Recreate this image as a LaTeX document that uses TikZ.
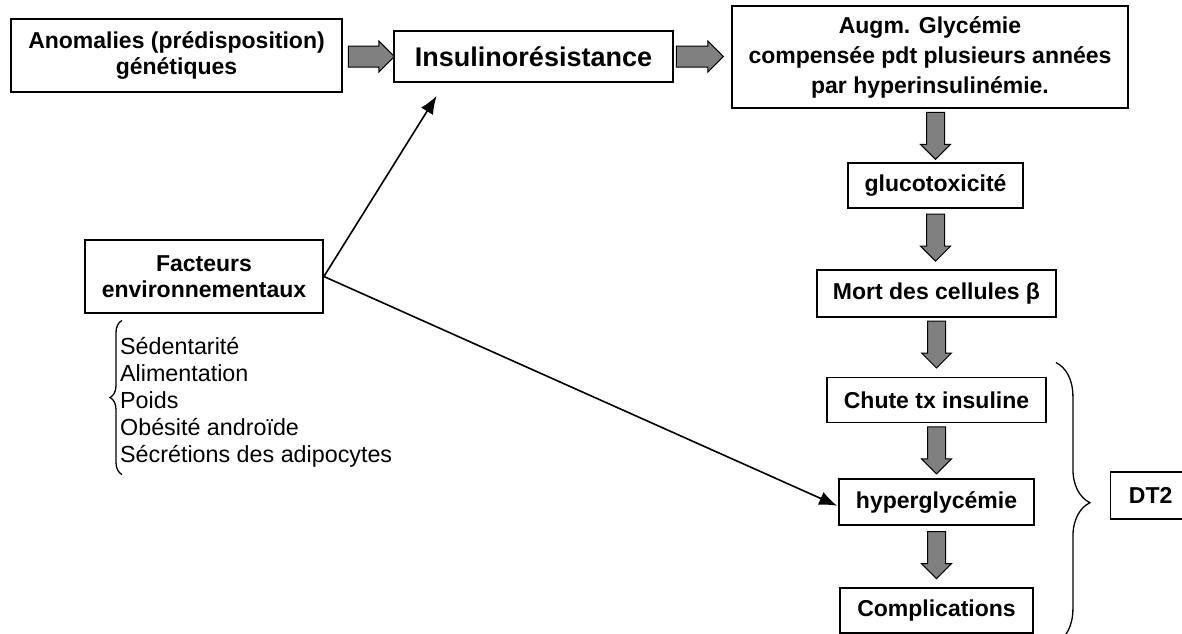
\documentclass[tikz,border=0pt]{standalone}
\usepackage{fontspec}
\setmainfont{Liberation Sans}
\usetikzlibrary{positioning,calc,shapes.arrows,arrows.meta,decorations.pathreplacing}

\begin{document}
\begin{tikzpicture}[x=1pt,y=-1pt,
box/.style={draw, line width=1.8pt, inner sep=0pt, align=center, font=\bfseries\fontsize{23}{26}\selectfont},
blk/.style={single arrow, draw, fill=gray, line width=1pt, inner xsep=0pt, inner ysep=8.5pt, single arrow tip angle=90, single arrow head extend=6pt, minimum height=47pt},
link/.style={line width=1.6pt, -{Latex[length=18pt,width=14pt]}},
node distance=55pt
]
\useasboundingbox (0,0) rectangle (1182,633);
\node[box, minimum width=331pt, minimum height=73pt] (anom) at (176.5,55.5) {Anomalies (prédisposition)\\génétiques};
\node[box, minimum width=279pt, minimum height=51pt, font=\bfseries\fontsize{27}{32}\selectfont] (ins) at (533.5,56.5) {Insulinorésistance};
\node[box, minimum width=396pt, minimum height=102pt, font=\bfseries\fontsize{23}{30}\selectfont] (aug) at (930,57) {Augm. Glycémie\\compensée pdt plusieurs années\\par hyperinsulinémie.};
\node[box, minimum width=175pt, minimum height=45pt, below=53pt of aug, xshift=5.5pt] (gluc) {glucotoxicité};
\node[box, minimum width=239pt, minimum height=47pt, below=60pt of gluc, xshift=1pt] (mort) {Mort des cellules β};
\node[box, minimum width=219pt, minimum height=45pt, below=59pt of mort] (chute) {Chute tx insuline};
\node[box, minimum width=195pt, minimum height=46pt, below=of chute] (hyp) {hyperglycémie};
\node[box, minimum width=193pt, minimum height=45pt, below=61pt of hyp] (comp) {Complications};
\node[box, anchor=west, align=left, text width=71.5pt, inner xsep=18.5pt, minimum height=47pt] (dt2) at (1109.5,495.5) {DT2};
\node[box, minimum width=238pt, minimum height=73pt] (fact) at (204,276.5) {Facteurs\\environnementaux};
\node[anchor=west, align=left, inner sep=0pt, font=\fontsize{23.3}{27}\selectfont] (list) at (120,402.5) {Sédentarité\\Alimentation\\Poids\\Obésité androïde\\Sécrétions des adipocytes};

\node[blk, minimum height=46pt, inner ysep=10pt, single arrow head extend=5pt, anchor=tail] (h1) at ($(anom.east)+(5,1)$) {};
\node[blk, inner ysep=10pt, single arrow head extend=5pt, anchor=tail] (h2) at ($(ins.east)+(2,0)$) {};
\node[blk, rotate=-90, anchor=tail] (v1) at ($(gluc.north |- aug.south)+(0,3)$) {};
\node[blk, rotate=-90, anchor=tail] (v2) at ($(gluc.south)+(0,5)$) {};
\node[blk, rotate=-90, anchor=tail] (v3) at ($(mort.south)+(0,3)$) {};
\node[blk, rotate=-90, anchor=tail] (v4) at ($(chute.south)+(0,3)$) {};
\node[blk, rotate=-90, anchor=tail] (v5) at ($(hyp.south)+(0,5)$) {};

\coordinate (up) at ($(ins.south west)!0.155!(ins.south east)+(0,13)$);
\draw[link] (fact.east) -- (up);
\draw[link, shorten >=1pt] (fact.east) -- ($(hyp.west)+(0,4)$);

\draw[line width=1.3pt, decorate, decoration={brace, amplitude=12pt}] ($(list.west)+(2,72)$) -- ($(list.west)+(2,-82)$);
\draw[line width=1.3pt, decorate, decoration={brace, amplitude=34pt}] ($(chute.north east)+(9,-14)$) -- ($(chute.east |- comp.south)+(9,9)$);
\end{tikzpicture}
\end{document}
